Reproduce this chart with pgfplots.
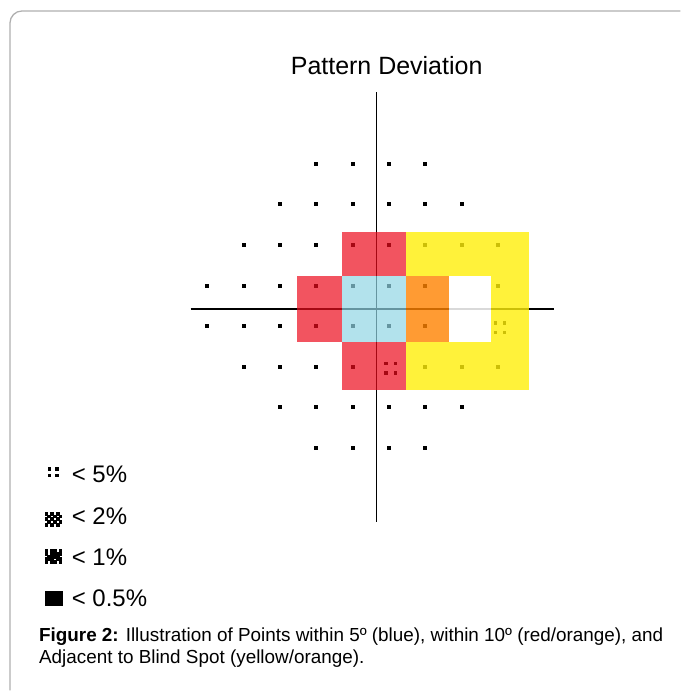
\documentclass[border=0pt]{standalone}
\usepackage{pgfplots}
\pgfplotsset{compat=1.18}
\usepackage{fontspec}
\setmainfont{Liberation Sans}
\definecolor{cred}{RGB}{236,12,28}
\definecolor{cblue}{RGB}{145,213,228}
\definecolor{cyel}{RGB}{255,239,9}
\definecolor{corg}{RGB}{255,130,0}
\definecolor{cborder}{RGB}{175,175,175}
\begin{document}
\begin{tikzpicture}
\begin{axis}[
  set layers,
  x=0.5pt, y=0.5pt, y dir=reverse,
  xmin=0, xmax=681, ymin=0, ymax=691,
  hide axis, clip=false,
]
\path (axis cs:0,0) rectangle (axis cs:681,691);
% frame
\draw[cborder, line width=0.65pt, rounded corners=6pt] (axis cs:10,691) -- (axis cs:10,11) -- (axis cs:681,11);
% axes cross
\addplot[black, line width=1.15pt] coordinates {(190.7,309) (555,309)};
\addplot[black, line width=0.75pt] coordinates {(376.7,92.3) (376.7,522.7)};
% test points
\addplot[only marks, mark=square*, mark size=0.75pt, black] coordinates {
(316.4,164) (352.8,164) (389.2,164) (425.6,164)
(280,204.3) (316.4,204.3) (352.8,204.3) (389.2,204.3) (425.6,204.3) (462,204.3)
(243.7,245) (280,245) (316.4,245) (352.8,245) (389.2,245) (425.6,245) (462,245) (498.4,245)
(207.3,285.7) (243.7,285.7) (280,285.7) (316.4,285.7) (352.8,285.7) (389.2,285.7) (425.6,285.7) (498.4,285.7)
(207.3,326) (243.7,326) (280,326) (316.4,326) (352.8,326) (389.2,326) (425.6,326)
(243.7,367) (280,367) (316.4,367) (352.8,367) (425.6,367) (462,367) (498.4,367)
(280,407.7) (316.4,407.7) (352.8,407.7) (389.2,407.7) (425.6,407.7) (462,407.7)
(316.4,448.3) (352.8,448.3) (389.2,448.3) (425.6,448.3)
};
% p<5% symbols
\addplot[only marks, mark=square*, mark size=0.55pt, black] coordinates {
(495.7,323.3) (505,323.3) (495.7,332.7) (505,332.7)
(386.3,364) (395.7,364) (386.3,373.3) (395.7,373.3)
};
% coloured regions (on top, semi-transparent)
\pgfplotsset{every axis plot/.append style={}}
\addplot[on layer=axis foreground, draw=none, fill=cred, fill opacity=0.7] coordinates {(342,232) (406,232) (406,276) (342,276)} -- cycle;
\addplot[on layer=axis foreground, draw=none, fill=cred, fill opacity=0.7] coordinates {(342,342.5) (406,342.5) (406,390.5) (342,390.5)} -- cycle;
\addplot[on layer=axis foreground, draw=none, fill=cred, fill opacity=0.7] coordinates {(297,276) (342,276) (342,342.5) (297,342.5)} -- cycle;
\addplot[on layer=axis foreground, draw=none, fill=cblue, fill opacity=0.7] coordinates {(342,276) (406,276) (406,342.5) (342,342.5)} -- cycle;
\addplot[on layer=axis foreground, draw=none, fill=cyel, fill opacity=0.8] coordinates {(406,232) (529,232) (529,276) (406,276)} -- cycle;
\addplot[on layer=axis foreground, draw=none, fill=cyel, fill opacity=0.8] coordinates {(406,342.5) (529,342.5) (529,390) (406,390)} -- cycle;
\addplot[on layer=axis foreground, draw=none, fill=cyel, fill opacity=0.8] coordinates {(491,276) (529,276) (529,342.5) (491,342.5)} -- cycle;
\addplot[on layer=axis foreground, draw=none, fill=corg, fill opacity=0.8] coordinates {(406,276) (449,276) (449,342.5) (406,342.5)} -- cycle;
\addplot[on layer=axis foreground, draw=none, fill=white, fill opacity=0.85] coordinates {(449,276) (491,276) (491,342.5) (449,342.5)} -- cycle;
% legend symbols
\addplot[only marks, mark=square*, mark size=0.6pt, black] coordinates {
(49.5,469.5) (57,469.5) (49.5,476) (57,476)};
\addplot[only marks, mark=square*, mark size=0.7pt, black] coordinates {
(46.4,514.1) (52,514.1) (57.6,514.1)
(49.2,516.9) (54.8,516.9) (60.4,516.9)
(46.4,519.7) (52,519.7) (57.6,519.7)
(49.2,522.5) (54.8,522.5) (60.4,522.5)
(46.4,525.3) (52,525.3) (57.6,525.3)};
\addplot[only marks, mark=square*, mark size=0.72pt, black] coordinates {
(46.4,551.4) (52,551.4) (54.8,551.4) (60.4,551.4)
(46.4,554.2) (52,554.2) (54.8,554.2) (57.6,554.2) (60.4,554.2)
(49.2,557) (52,557) (54.8,557) (57.6,557)
(46.4,559.8) (49.2,559.8) (52,559.8) (57.6,559.8) (60.4,559.8)
(46.4,562.6) (52,562.6) (54.8,562.6) (60.4,562.6)};
\addplot[draw=none, fill=black] coordinates {(45,591.7) (62.7,591.7) (62.7,606.7) (45,606.7)} -- cycle;
% texts
\node[anchor=base, font=\fontsize{12.5pt}{15pt}\selectfont, inner sep=0pt] at (axis cs:387,75) {Pattern Deviation};
\node[anchor=base west, font=\fontsize{12pt}{14pt}\selectfont, inner sep=0pt] at (axis cs:71.5,483) {< 5\%};
\node[anchor=base west, font=\fontsize{12pt}{14pt}\selectfont, inner sep=0pt] at (axis cs:71.5,524.5) {< 2\%};
\node[anchor=base west, font=\fontsize{12pt}{14pt}\selectfont, inner sep=0pt] at (axis cs:71.5,566) {< 1\%};
\node[anchor=base west, font=\fontsize{12pt}{14pt}\selectfont, inner sep=0pt] at (axis cs:71.5,607.5) {< 0.5\%};
\node[anchor=base west, font=\fontsize{9.45pt}{11pt}\selectfont, inner sep=0pt] at (axis cs:38.7,642.5) {\textbf{Figure 2:} Illustration of Points within 5º (blue), within 10º (red/orange), and};
\node[anchor=base west, font=\fontsize{9.45pt}{11pt}\selectfont, inner sep=0pt] at (axis cs:38.7,664.5) {Adjacent to Blind Spot (yellow/orange).};
\end{axis}
\end{tikzpicture}
\end{document}
